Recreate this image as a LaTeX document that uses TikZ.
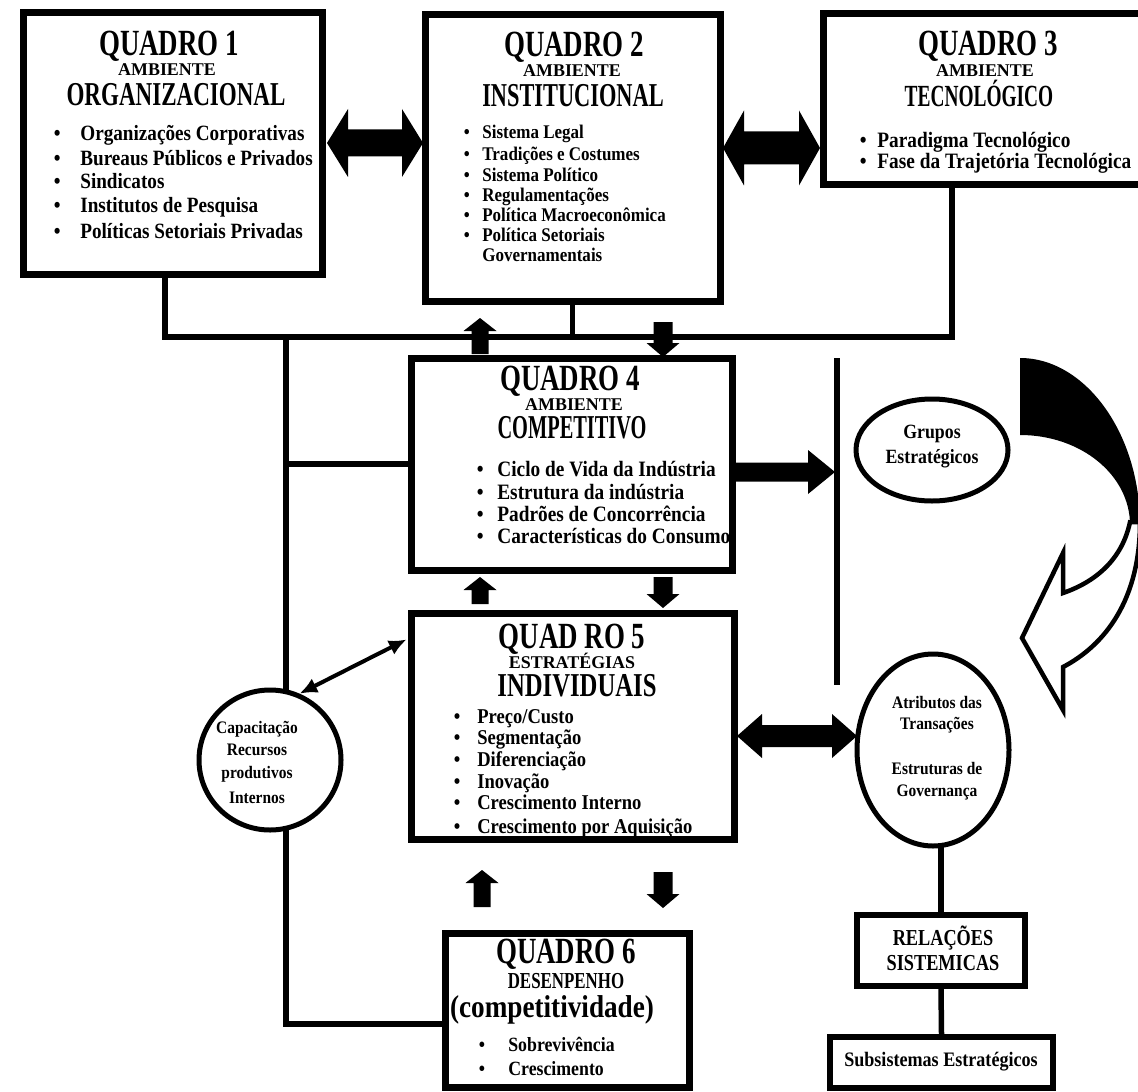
\documentclass[tikz,border=0pt]{standalone}
\usepackage{fontspec}
\setmainfont{Liberation Serif}
\newfontfamily\fbul[FakeStretch=0.88]{Liberation Serif}
\usepackage{graphicx}
\usetikzlibrary{shapes.geometric,arrows.meta,calc}
\newdimen\upx \upx=0.02cm
\pgfdeclarelayer{bg}
\pgfsetlayers{bg,main}
\newcommand\sx[2]{\scalebox{#1}[1]{#2}}
\newcommand\ttl[1]{\sx{0.73}{\fontsize{21}{21}\selectfont\bfseries #1}}
\newcommand\subt[1]{{\fontsize{10.2}{10.2}\selectfont\bfseries #1}}
\newcommand\hd[3][19]{\sx{#2}{\fontsize{#1}{#1}\selectfont\bfseries #3}}
\newcommand\blt[2]{\makebox[#1\upx][l]{\textbullet}#2}
\tikzset{
  qbox/.style={draw, rectangle, line width=7\upx, fill=white, inner sep=0},
  sbox/.style={draw, rectangle, line width=6\upx, fill=white, inner sep=0},
  ell/.style={draw, ellipse, line width=5\upx, fill=white, inner sep=0},
  conn/.style={line width=5.5\upx},
  txt/.style={inner sep=0, anchor=base},
  bul/.style={inner sep=0, anchor=base west},
  thinarrow/.style={line width=4\upx, {Latex[length=10pt,width=9pt]}-{Latex[length=10pt,width=9pt]}},
  pics/dblarrow/.style n args={4}{code={
    \fill (-#1,0) -- (-#1+#4,-#3) -- (-#1+#4,-#2) -- (#1-#4,-#2) -- (#1-#4,-#3) -- (#1,0)
      -- (#1-#4,#3) -- (#1-#4,#2) -- (-#1+#4,#2) -- (-#1+#4,#3) -- cycle;
  }},
  pics/sglarrow/.style n args={4}{code={
    \fill (0,-#2) -- (#1-#4,-#2) -- (#1-#4,-#3) -- (#1,0) -- (#1-#4,#3) -- (#1-#4,#2) -- (0,#2) -- cycle;
  }},
}
\begin{document}
\begin{tikzpicture}[x=0.02cm, y=-0.02cm]
\useasboundingbox (0,0) rectangle (1138,1091);

% ---------- boxes ----------
\node[qbox, minimum width=299\upx, minimum height=261\upx] (q1) at (172.5,143.5) {};
\node[qbox, minimum width=295\upx, minimum height=286\upx] (q2) at (572.5,158) {};
\node[qbox, minimum width=320\upx, minimum height=171\upx] (q3) at (983,99.5) {};
\node[qbox, minimum width=321\upx, minimum height=212\upx] (q4) at (571.5,464) {};
\node[qbox, minimum width=323\upx, minimum height=226\upx] (q5) at (572.5,726) {};
\node[qbox, minimum width=244\upx, minimum height=154\upx] (q6) at (567,1010) {};
\node[sbox, minimum width=168\upx, minimum height=71\upx] (rel) at (941,950.5) {};
\node[sbox, minimum width=223\upx, minimum height=51\upx] (sub) at (941.5,1062.5) {};
\node[ell, minimum width=152\upx, minimum height=102\upx] (grp) at (932,450) {};
\node[ell, minimum width=152\upx, minimum height=192\upx] (atr) at (933,750) {};
\node[ell, minimum width=142\upx, minimum height=140\upx] (cap) at (270,760) {};

% ---------- connectors (behind) ----------
\begin{pgfonlayer}{bg}
\fill[white] (0,0) rectangle (1138,1091);
\coordinate (jL) at (165,337);
\coordinate (jR) at (952,337);
\coordinate (jV) at (286,337);
\coordinate (jB) at (286,1024);
\coordinate (rt) at (837,358);
\coordinate (rb) at (837,685);
\draw[conn] (q1.south -| jL) -- (jL) -- (jR) -- (q3.south -| jR);
\draw[conn] (q2.south) -- (q2.south |- jL);
\draw[conn] (jV) -- (jB) -- (jB -| q6.west);
\draw[conn] (jV |- q4.west) -- (q4.west);
\draw[conn] (rt) -- (rb);
\draw[conn] (rel.north) -- (rel.north |- atr.center);
\draw[conn] (rel.south) -- (sub.north);
\end{pgfonlayer}

% ---------- block arrows ----------
\pic at (375,143) {dblarrow={48}{13.5}{34}{21}};
\pic at (771.5,148) {dblarrow={48.5}{16.5}{37.5}{21}};
\pic at (735,472) {sglarrow={100}{9.5}{22}{27}};
\pic at (797,736) {dblarrow={60}{11}{22}{25}};
\pic[rotate=90] at (480,354) {sglarrow={36}{8.5}{16.5}{13}};
\pic[rotate=-90] at (663,322) {sglarrow={35}{9.5}{16.5}{14}};
\pic[rotate=90] at (480,604) {sglarrow={27}{8.5}{16.5}{13}};
\pic[rotate=-90] at (663,577) {sglarrow={31}{9.5}{16.5}{14}};
\pic[rotate=90] at (482,907) {sglarrow={37}{8.5}{16.5}{13}};
\pic[rotate=-90] at (663,872) {sglarrow={36}{9.5}{16.5}{14}};

% thin double arrow
\coordinate (q5in) at ($(q5.north west)+(-1,30)$);
\draw[thinarrow] (cap.66) -- (q5in);

% curved arrow
\fill (1020,358) -- (1020,435) .. controls (1081,435) and (1130,475) .. (1130,525)
  -- (1140,525) .. controls (1140,433) and (1085,358) .. (1020,358) -- cycle;
\filldraw[fill=white, line width=4.5\upx, line join=miter]
  (1130,522) .. controls (1122,560) and (1095,582) .. (1063,593) -- (1063,553) -- (1022,638)
  -- (1063,710) -- (1063,667) .. controls (1105,645) and (1140,600) .. (1140,522) -- cycle;

% ---------- texts ----------
% Quadro 1
\node[txt] (q1t) at (169,56) {\ttl{QUADRO 1}};
\node[txt] (q1s) at (167,76) {\subt{AMBIENTE}};
\node[txt] (q1h) at (176,106) {\hd{0.69}{ORGANIZACIONAL}};
\foreach \y/\t [count=\i] in {141/Organizações Corporativas, 166/Bureaus Públicos e Privados, 189/Sindicatos, 213/Institutos de Pesquisa, 238/Políticas Setoriais Privadas}
  \node[bul, font=\fbul\bfseries\fontsize{12.4}{12.4}\selectfont] (q1b\i) at (53.5,\y) {\blt{26.5}{\t}};
% Quadro 2
\node[txt] (q2t) at (574,57) {\ttl{QUADRO 2}};
\node[txt] (q2s) at (572,77) {\subt{AMBIENTE}};
\node[txt] (q2h) at (573,107) {\hd{0.67}{INSTITUCIONAL}};
\foreach \y/\t [count=\i] in {139/Sistema Legal, 161/Tradições e Costumes, 181/Sistema Político, 201/Regulamentações, 221/Política Macroeconômica, 241/Política Setoriais}
  \node[bul, font=\fbul\bfseries\fontsize{11}{11}\selectfont] (q2b\i) at (463.5,\y) {\blt{18.5}{\t}};
\node[bul, font=\fbul\bfseries\fontsize{11}{11}\selectfont] (q2g) at (482,261) {Governamentais};
% Quadro 3
\node[txt] (q3t) at (988,56) {\ttl{QUADRO 3}};
\node[txt] (q3s) at (985,77) {\subt{AMBIENTE}};
\node[txt] (q3h) at (979,107) {\hd[17.5]{0.63}{TECNOLÓGICO}};
\foreach \y/\t [count=\i] in {148/Paradigma Tecnológico, 169/Fase da Trajetória Tecnológica}
  \node[bul, font=\fbul\bfseries\fontsize{12.5}{12.5}\selectfont] (q3b\i) at (859.5,\y) {\blt{17.5}{\t}};
% Quadro 4
\node[txt] (q4t) at (570,390) {\ttl{QUADRO 4}};
\node[txt] (q4s) at (574,410) {\subt{AMBIENTE}};
\node[txt] (q4h) at (572,438) {\hd{0.61}{COMPETITIVO}};
\foreach \y/\t [count=\i] in {476/Ciclo de Vida da Indústria, 499/Estrutura da indústria, 521/Padrões de Concorrência, 543/Características do Consumo}
  \node[bul, font=\fbul\bfseries\fontsize{12.5}{12.5}\selectfont] (q4b\i) at (476.5,\y) {\blt{20.5}{\t}};
% Quadro 5
\node[txt] (q5t) at (572,648) {\ttl{QUAD RO 5}};
\node[txt] (q5s) at (572,668) {\subt{ESTRATÉGIAS}};
\node[txt] (q5h) at (577,696) {\hd{0.74}{INDIVIDUAIS}};
\foreach \y/\t [count=\i] in {723/Preço\slash Custo, 744/Segmentação, 766/Diferenciação, 788/Inovação, 809/Crescimento Interno, 833/Crescimento por Aquisição}
  \node[bul, font=\fbul\bfseries\fontsize{12}{12}\selectfont] (q5b\i) at (453.5,\y) {\blt{23.5}{\t}};
% Quadro 6
\node[txt] (q6t) at (566,963) {\ttl{QUADRO 6}};
\node[txt] (q6s) at (566,988) {\sx{0.74}{\fontsize{13}{13}\selectfont\bfseries DESENPENHO}};
\node[txt] (q6h) at (552,1017) {\sx{0.86}{\fontsize{18}{18}\selectfont\bfseries (competitividade)}};
\foreach \y/\t [count=\i] in {1051/Sobrevivência, 1075/Crescimento}
  \node[bul, font=\fbul\bfseries\fontsize{11.5}{11.5}\selectfont] (q6b\i) at (478.5,\y) {\blt{29.5}{\t}};
% circles and ellipses
\foreach \y/\t [count=\i] in {733/Capacitação, 755/Recursos, 778/produtivos, 803/Internos}
  \node[txt, font=\fbul\bfseries\fontsize{10}{10}\selectfont] (capt\i) at (257,\y) {\t};
\node[txt, font=\fbul\bfseries\fontsize{11.5}{11.5}\selectfont] (grp1) at (932,438) {Grupos};
\node[txt, font=\fbul\bfseries\fontsize{11.5}{11.5}\selectfont] (grp2) at (932,463) {Estratégicos};
\foreach \y/\t [count=\i] in {708/Atributos das, 729/Transações, 774/Estruturas de, 796/Governança}
  \node[txt, font=\fbul\bfseries\fontsize{10}{10}\selectfont] (atrt\i) at (937,\y) {\t};
% small boxes
\node[txt] (rel1) at (943,945) {\sx{0.8}{\fontsize{13}{13}\selectfont\bfseries RELAÇÕES}};
\node[txt] (rel2) at (943,970) {\sx{0.8}{\fontsize{13}{13}\selectfont\bfseries SISTEMICAS}};
\node[txt, font=\fbul\bfseries\fontsize{11.7}{11.7}\selectfont] (subt) at (941,1066) {Subsistemas Estratégicos};
\end{tikzpicture}
\end{document}
